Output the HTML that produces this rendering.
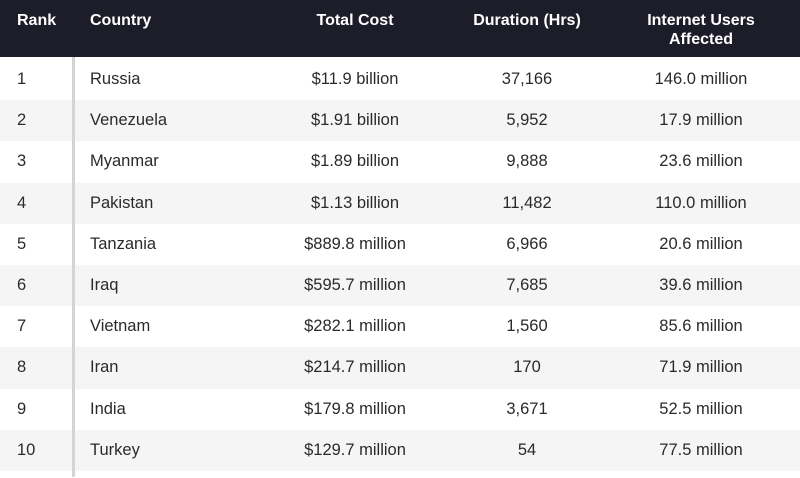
<!DOCTYPE html>
<html><head><style>
body{margin:0;width:800px;height:478px;background:#fff;font-family:"Liberation Sans",sans-serif;overflow:hidden;position:relative}
.hd{position:absolute;left:0;top:0;width:800px;height:57px;background:#1d1c29}
.h{position:absolute;color:#fff;font-weight:bold;font-size:16px;line-height:19px}
.row{position:absolute;left:0;width:800px;height:41.2px}
.c{position:absolute;font-size:16.5px;color:#2a2a2a;line-height:41px;top:0}
.ctr{transform:translateX(-50%);white-space:nowrap}
.vl{position:absolute;left:72px;top:57px;width:3px;height:420px;background:#d4d4d4}
</style></head><body>
<div class="hd"></div>
<div class="h" style="left:17px;top:11px">Rank</div>
<div class="h" style="left:90px;top:11px">Country</div>
<div class="h ctr" style="left:355px;top:11px">Total Cost</div>
<div class="h ctr" style="left:527px;top:11px">Duration (Hrs)</div>
<div class="h ctr" style="left:701px;top:11px;text-align:center">Internet Users<br>Affected</div>
<div id="rows"></div>
<script>
var d=[["1","Russia","$11.9 billion","37,166","146.0 million"],["2","Venezuela","$1.91 billion","5,952","17.9 million"],["3","Myanmar","$1.89 billion","9,888","23.6 million"],["4","Pakistan","$1.13 billion","11,482","110.0 million"],["5","Tanzania","$889.8 million","6,966","20.6 million"],["6","Iraq","$595.7 million","7,685","39.6 million"],["7","Vietnam","$282.1 million","1,560","85.6 million"],["8","Iran","$214.7 million","170","71.9 million"],["9","India","$179.8 million","3,671","52.5 million"],["10","Turkey","$129.7 million","54","77.5 million"]];
var h="";d.forEach(function(r,i){h+='<div class="row" style="top:'+(59+i*41.2)+'px;background:'+(i%2?'#f5f5f5':'#fff')+'"><div class="c" style="left:17px">'+r[0]+'</div><div class="c" style="left:90px">'+r[1]+'</div><div class="c ctr" style="left:355px">'+r[2]+'</div><div class="c ctr" style="left:527px">'+r[3]+'</div><div class="c ctr" style="left:701px">'+r[4]+'</div></div>';});
document.getElementById("rows").innerHTML=h;
</script>
<div class="vl"></div>
</body></html>
